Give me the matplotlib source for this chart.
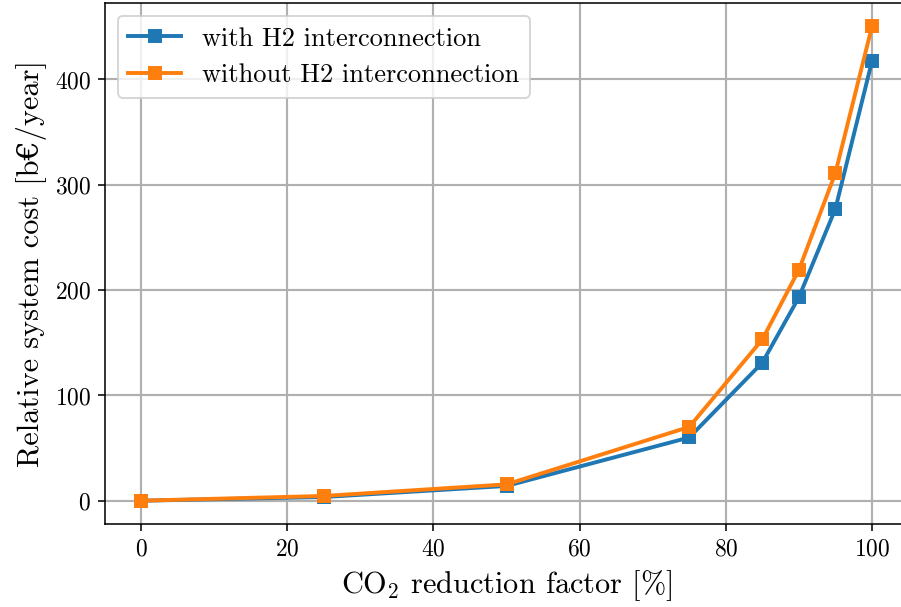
import numpy as np
import matplotlib
matplotlib.use('Agg')
import matplotlib.pyplot as plt

plt.rcParams['font.family'] = ['cmr10', 'DejaVu Serif']
plt.rcParams['mathtext.fontset'] = 'cm'
plt.rcParams['axes.formatter.use_mathtext'] = True

#%% datos
co2 = [0, 25, 50, 75, 85, 90, 95, 100]
con_h2 = [0, 3.5, 14, 60, 131, 193, 277, 417]
sin_h2 = [0, 4.5, 15.5, 70, 153, 219, 311, 450]

dpi = 140.78
fig, ax = plt.subplots(figsize=(901.3/dpi, 607.3/dpi), dpi=dpi)
ax.plot(co2, con_h2, 's-', lw=2, label='with H2 interconnection')
ax.plot(co2, sin_h2, 's-', lw=2, label='without H2 interconnection')

ax.set_xlabel(r'CO$_2$ reduction factor [%]', fontsize=15.5)
ax.set_ylabel('Relative system cost [b€/year]', fontsize=15.5)
ax.tick_params(labelsize=12)
ax.grid(True, lw=1.1)
ax.legend(fontsize=13.5, loc='upper left')

# la figura original esta recortada a la derecha
ax.spines['right'].set_visible(False)
fig.subplots_adjust(left=0.116, right=1.008, bottom=0.136, top=0.995)
plt.savefig('out.png', dpi=dpi)
